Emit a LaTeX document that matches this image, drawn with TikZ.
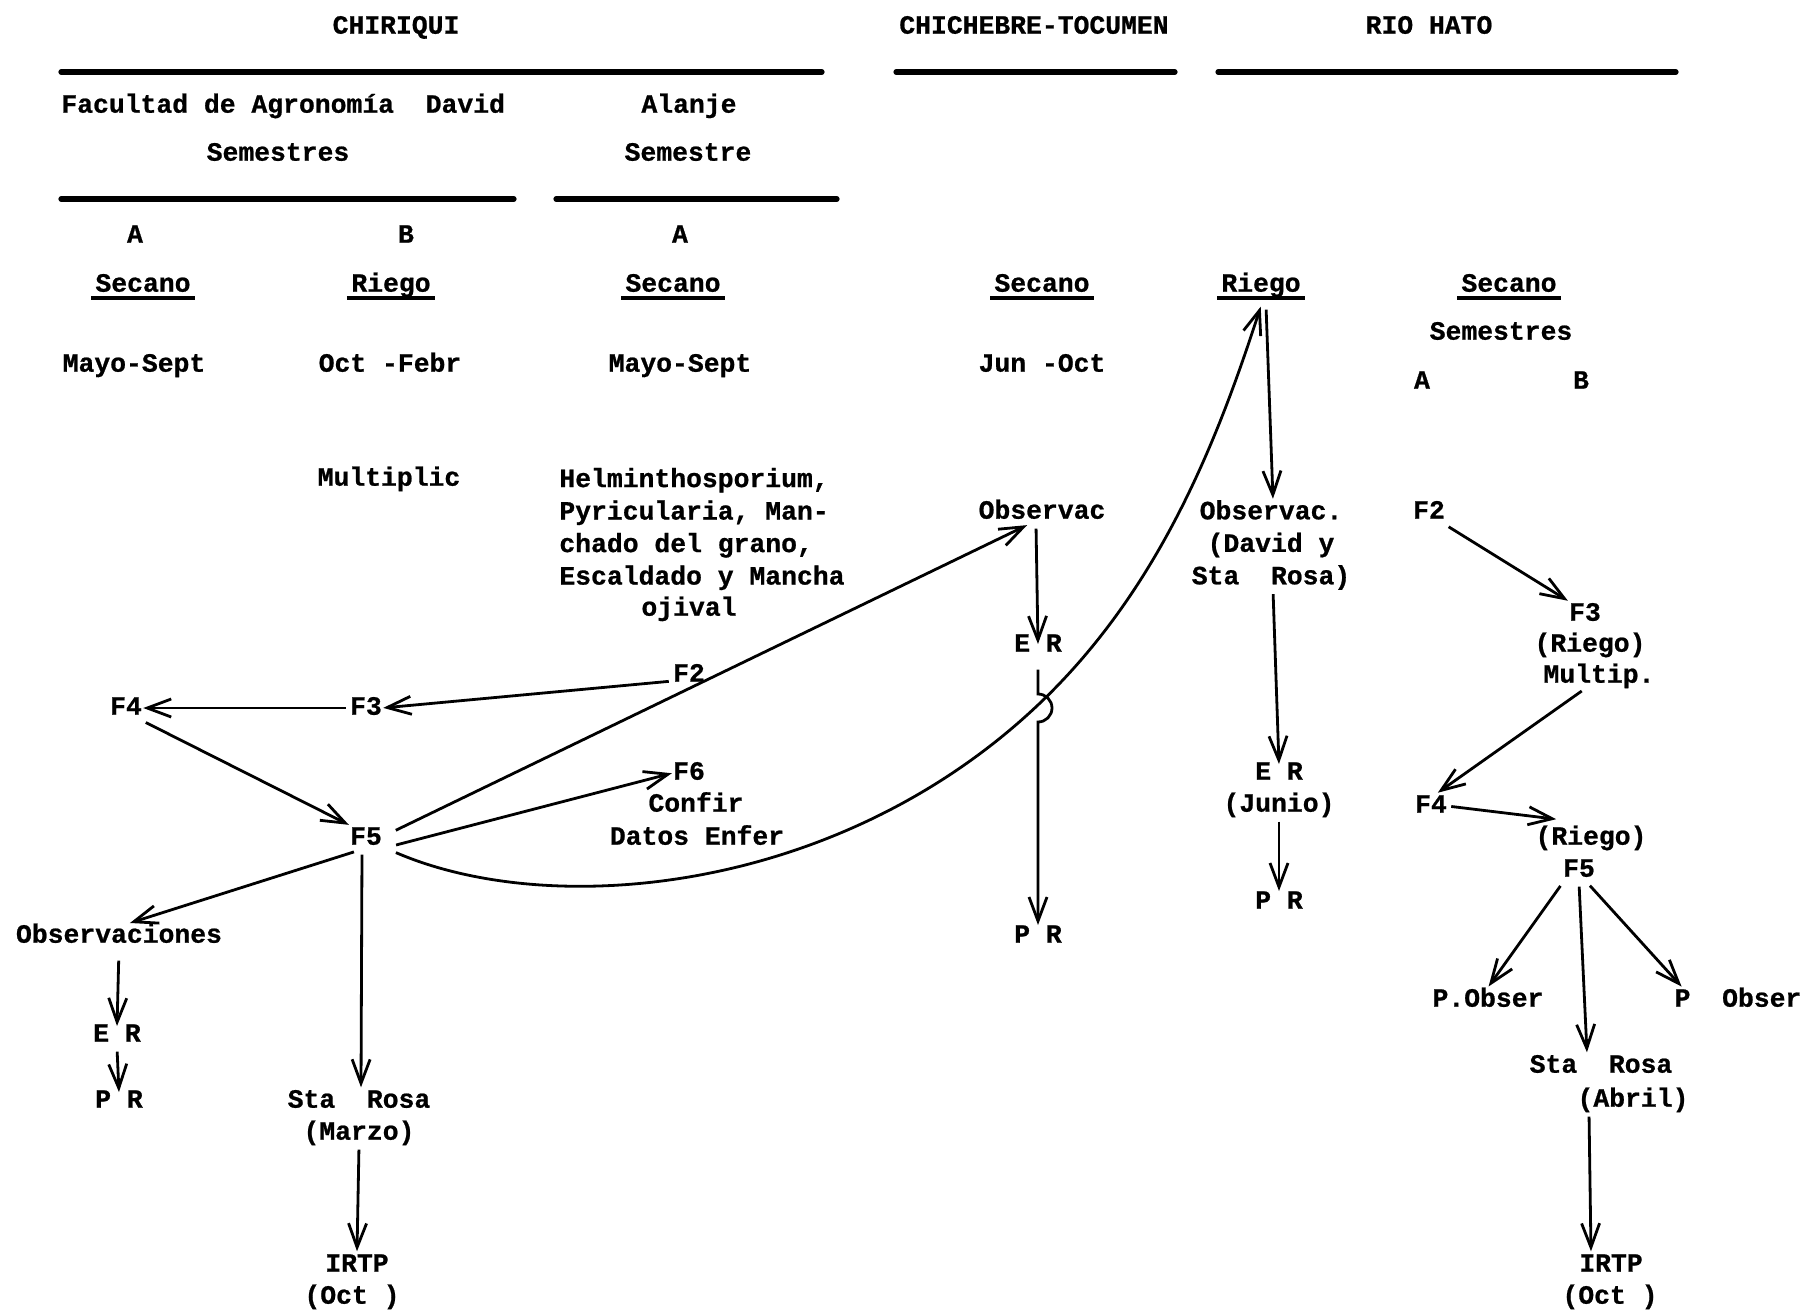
\documentclass[tikz,border=0pt]{standalone}
\usepackage{fontspec}
\setmainfont{Liberation Mono}[BoldFeatures={FakeBold=0.8}]
\usetikzlibrary{arrows.meta}
\begin{document}
\begin{tikzpicture}[x=0.5pt,y=-0.5pt,
  t/.style={inner sep=0pt, font=\bfseries\fontsize{13.2}{16.25}\selectfont, align=center},
  s/.style={t, text height=9.5pt, text depth=2.8pt},
  arr/.style={draw, line width=1.4pt, shorten >=0.5pt, shorten <=2pt,
    -{Straight Barb[length=12pt,width=9pt,line width=1.4pt]}},
  rule/.style={line width=2.6pt, line cap=round},
  ul/.style={line width=2.2pt}]
\useasboundingbox (0,0) rectangle (1810,1310);

% heading rules
\draw[rule] (61,72) -- (822,72);
\draw[rule] (896,72) -- (1175,72);
\draw[rule] (1218,72) -- (1676,72);
\draw[rule] (61,199) -- (514,199);
\draw[rule] (556,199) -- (837,199);

\begin{scope}[yshift=-1.5pt]
% headings
\node[s] (chiriqui) at (396,24) {CHIRIQUI};
\node[s] (chich) at (1034,24) {CHICHEBRE-TOCUMEN};
\node[s] (rio) at (1429,24) {RIO HATO};

\node[s, anchor=west] (facultad) at (61,103) {Facultad de Agronomía~~David};
\node[s] (alanje) at (689,103) {Alanje};
\node[s] (sem1) at (278,151) {Semestres};
\node[s] (sem2) at (688,151) {Semestre};

\node[s] (a1) at (135,233) {A};
\node[s] (b1) at (406,233) {B};
\node[s] (a2) at (680,233) {A};

\node[s] (sec1) at (143,282) {Secano};
\node[s] (rie1) at (391,282) {Riego};
\node[s] (sec2) at (673,282) {Secano};
\node[s] (sec3) at (1042,282) {Secano};
\node[s] (rgr) at (1261,282) {Riego};
\node[s] (sec4) at (1509,282) {Secano};

\node[s] (sem3) at (1501,330) {Semestres};
\node[s] (a3) at (1422,379) {A};
\node[s] (b3) at (1581,379) {B};

\node[s] (may1) at (134,362) {Mayo-Sept};
\node[s] (oct1) at (390,362) {Oct~-Febr};
\node[s] (may2) at (680,362) {Mayo-Sept};
\node[s] (jun1) at (1042,362) {Jun~-Oct};

\node[s] (multiplic) at (389,476) {Multiplic};
\node[t, anchor=west, align=left] (helm) at (559,526)
  {Helminthosporium,\\Pyricularia, Man-\\chado del grano,\\Escaldado y Mancha};
\node[s] (ojival) at (689,606) {ojival};

% Chiriqui flow
\node[s] (f2c) at (689,672) {F2};
\node[s] (f3c) at (366,705) {F3};
\node[s] (f4c) at (126,705) {F4};
\node[s] (f5c) at (366,835) {F5};
\node[s] (f6) at (689,770) {F6};
\node[s] (confir) at (696,802) {Confir};
\node[s] (datos) at (697,835) {Datos Enfer};
\node[s] (obsv) at (119,933) {Observaciones};
\node[s] (er2) at (117,1032) {E R};
\node[s] (pr2) at (119,1098) {P R};
\node[s] (srm) at (359,1098) {Sta~~Rosa};
\node[s] (marzo) at (359,1130) {(Marzo)};
\node[s] (irtp1) at (357,1262) {IRTP};
\node[s] (oct2) at (352,1294) {(Oct~)};

% Chichebre
\node[s] (obsc) at (1042,509) {Observac};
\node[s] (er1) at (1038,642) {E R};
\node[s] (pr1) at (1038,933) {P R};

% Rio Hato
\node[t] (obsd) at (1271,542) {Observac.\\(David y\\Sta~~Rosa)};
\node[s] (er3) at (1279,770) {E R};
\node[s] (jun) at (1279,802) {(Junio)};
\node[s] (pr3) at (1279,899) {P R};

\node[s] (f2r) at (1429,509) {F2};
\node[s] (f3r) at (1585,611) {F3};
\node[s] (rg3) at (1590,642) {(Riego)};
\node[s] (multip) at (1599,673) {Multip.};
\node[s] (f4r) at (1431,803) {F4};
\node[s] (rg5) at (1591,835) {(Riego)};
\node[s] (f5r) at (1579,867) {F5};
\node[s] (pobs1) at (1488,997) {P.Obser};
\node[s] (pobs2) at (1738,997) {P~~Obser};
\node[s] (sra) at (1601,1063) {Sta~~Rosa};
\node[s] (abr) at (1633,1097) {(Abril)};
\node[s] (irtp2) at (1611,1262) {IRTP};
\node[s] (oct3) at (1610,1294) {(Oct~)};
\end{scope}

\foreach \n in {sec1,rie1,sec2,sec3,rgr,sec4}
  \draw[ul] ([shift={(-2pt,-6.5pt)}]\n.west) -- ([shift={(2pt,-6.5pt)}]\n.east);

% connectors Chiriqui
\draw[arr] ([yshift=-3pt]f2c.west) -- (f3c.east);
\draw[arr] (f3c.west) -- (f4c.east);
\draw[arr] (f4c.south east) -- (f5c.north west);
\draw[arr] ([xshift=5pt,yshift=3pt]f5c.east) -- ([xshift=-7pt]obsc.south);
\draw[arr] ([xshift=5pt,yshift=-4pt]f5c.east) -- (f6.west);
\draw[arr] ([xshift=4pt]f5c.south west) -- ([xshift=5pt]obsv.north);
\draw[arr] ([xshift=-2pt]f5c.south) -- ([xshift=1pt]srm.north);
\draw[arr] (marzo.south) -- (irtp1.north);
\draw[arr, shorten <=6pt] (obsv.south) -- ([yshift=4pt]er2.center);
\draw[arr] (er2.south) -- ([yshift=4pt]pr2.center);

% long curve to Rio Hato Riego
\draw[arr] ([xshift=5pt,yshift=-6.5pt]f5c.east)
  .. controls (552,920) and (839,894) .. (1039,704)
  .. controls (1159,590) and (1217,442) .. ([yshift=-4pt]rgr.south);

% Chichebre
\draw[arr] ([xshift=-3pt]obsc.south) -- (er1.center);
\coordinate (jmp) at (1038,694);
\draw[arr] ([yshift=-4pt]er1.south) -- (jmp)
  arc[start angle=-90, end angle=90, radius=14] -- ([yshift=5pt]pr1.center);

% Rio Hato
\draw[arr] ([xshift=2.5pt,yshift=-4pt]rgr.south) -- ([xshift=1pt]obsd.north);
\draw[arr] ([xshift=1pt]obsd.south) -- ([yshift=4pt]er3.center);
\draw[arr] (jun.south) -- ([yshift=5pt]pr3.center);

\draw[arr] (f2r.south east) -- (f3r.north west);
\draw[arr] ([xshift=-7pt]multip.south) -- ([xshift=3pt]f4r.north);
\draw[arr] (f4r.east) -- ([xshift=11pt,yshift=3pt]rg5.north west);
\draw[arr] (f5r.south west) -- (pobs1.north);
\draw[arr] ([xshift=-4pt]f5r.south east) -- ([xshift=4pt]pobs2.north west);
\draw[arr] (f5r.south) -- ([xshift=-7pt]sra.north);
\draw[arr] ([xshift=-22pt]abr.south) -- ([xshift=-10pt]irtp2.north);
\end{tikzpicture}
\end{document}
